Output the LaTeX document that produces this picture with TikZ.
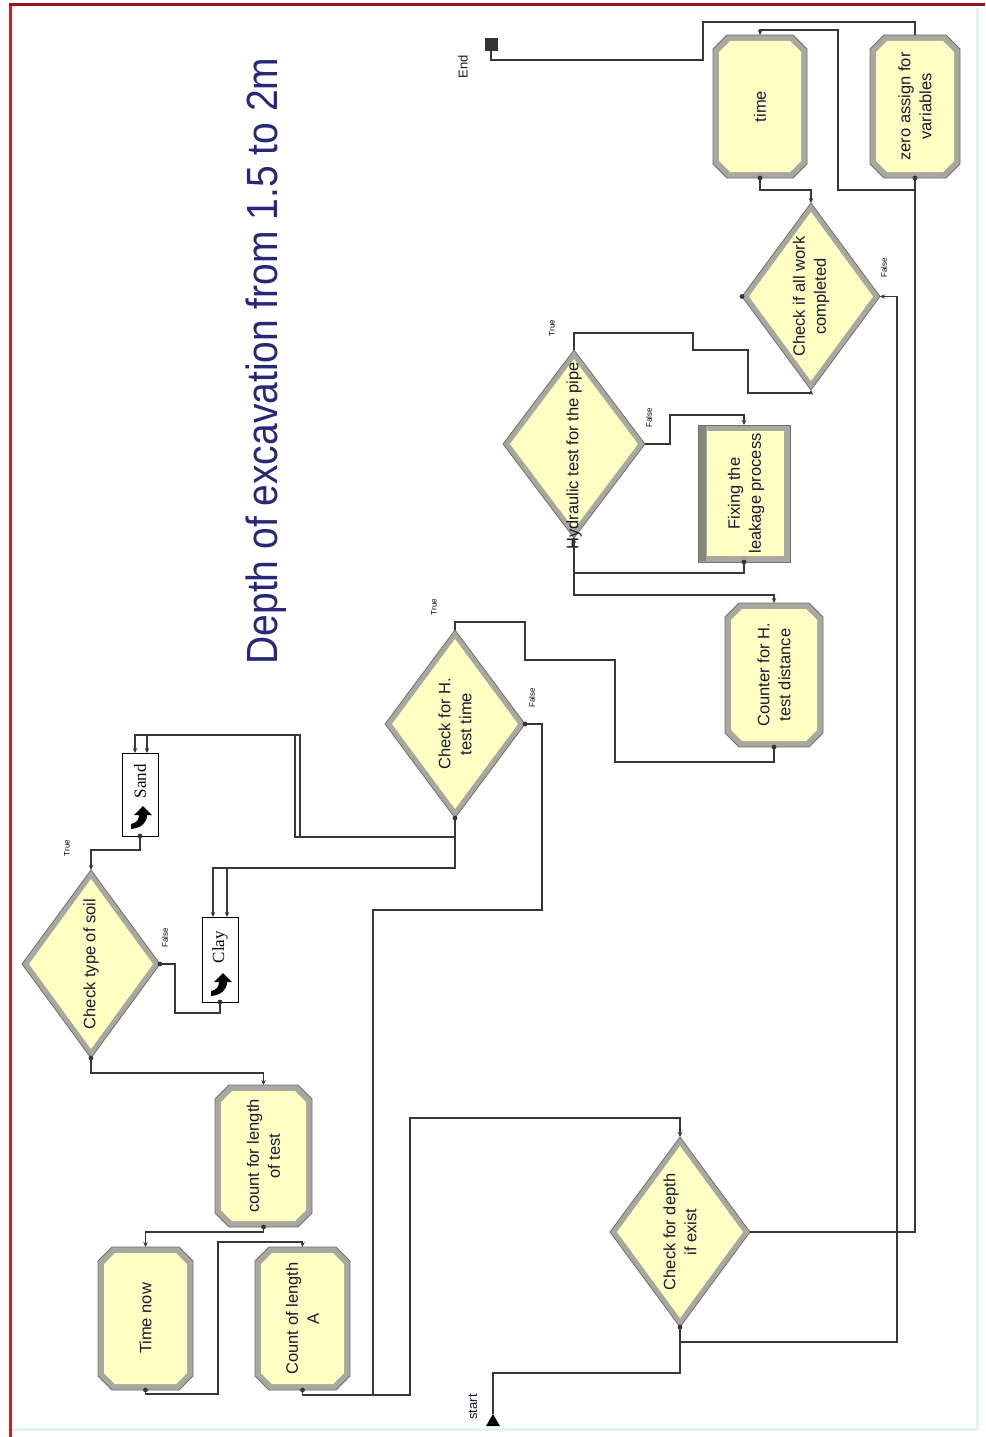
\documentclass[tikz,border=0pt]{standalone}
\usepackage{fontspec}
\setmainfont{Liberation Sans}
\newfontfamily\routefont{Liberation Serif}
\usetikzlibrary{shapes.geometric,arrows.meta}
\definecolor{boxyellow}{RGB}{255,255,196}
\definecolor{bordergray}{RGB}{168,168,160}
\definecolor{borderdark}{RGB}{112,112,106}
\definecolor{linecol}{RGB}{55,55,55}
\definecolor{textcol}{RGB}{25,25,50}
\definecolor{titlecol}{RGB}{40,40,120}
\definecolor{frametop}{RGB}{150,20,30}
\definecolor{frameleft}{RGB}{210,30,40}
\definecolor{framepale}{RGB}{226,244,244}

% process module: chamfered box with a grey rim
\newcommand\octobox[6]{%
  \node[shapebox,rectangle,minimum width=#4pt,minimum height=#5pt] (#1) at (#2,#3) {};
  \filldraw[fill=bordergray,draw=borderdark,line width=0.8pt]
    ([xshift=14pt]#1.north west) -- ([xshift=-14pt]#1.north east)
    -- ([yshift=-14pt]#1.north east) -- ([yshift=14pt]#1.south east)
    -- ([xshift=-14pt]#1.south east) -- ([xshift=14pt]#1.south west)
    -- ([yshift=14pt]#1.south west) -- ([yshift=-14pt]#1.north west) -- cycle;
  \fill[boxyellow]
    ([shift={(17pt,-6pt)}]#1.north west) -- ([shift={(-17pt,-6pt)}]#1.north east)
    -- ([shift={(-6pt,-17pt)}]#1.north east) -- ([shift={(-6pt,17pt)}]#1.south east)
    -- ([shift={(-17pt,6pt)}]#1.south east) -- ([shift={(17pt,6pt)}]#1.south west)
    -- ([shift={(6pt,17pt)}]#1.south west) -- ([shift={(6pt,-17pt)}]#1.north west) -- cycle;
  \node[lbl] (#1-t) at (#1) {#6};
}
% decide module: diamond with a grey rim
\newcommand\decbox[7]{%
  \node[shapebox,diamond,minimum width=#4pt,minimum height=#5pt] (#1) at (#2,#3) {};
  \filldraw[fill=bordergray,draw=borderdark,line width=0.8pt]
    (#1.north) -- (#1.east) -- (#1.south) -- (#1.west) -- cycle;
  \fill[boxyellow] ([yshift=-9pt]#1.north) -- ([xshift=-7pt]#1.east)
    -- ([yshift=9pt]#1.south) -- ([xshift=7pt]#1.west) -- cycle;
  \node[lbl] (#1-t) at ([shift={(0,#7)}]#1) {#6};
}
% curved arrow symbol of the route modules
\newcommand\routeicon[2]{%
  \begin{scope}[shift={(#1,#2)}]
    \fill[black] (2,-12) -- (11,-3) -- (6,-3) .. controls (6,5) and (0,10) .. (-10,11)
      -- (-10,6) .. controls (-4,5) and (-2,1) .. (-2,-3) -- (-7,-3) -- cycle;
  \end{scope}
}

\begin{document}
\begin{tikzpicture}[x=1pt,y=-1pt,
  shapebox/.style={draw=none,inner sep=0pt,outer sep=0pt},
  conn/.style={draw=linecol,line width=1.3pt},
  arr/.style={conn,-{Stealth[length=5pt,width=4.5pt]}},
  lbl/.style={rotate=90,align=center,inner sep=0pt,font=\fontsize{16.5}{21}\selectfont,text=textcol},
  tf/.style={rotate=90,inner sep=0pt,font=\fontsize{8}{9}\selectfont,text=black},
  routebox/.style={rectangle,draw=black,line width=1pt,fill=white,inner sep=0pt,outer sep=0pt},
  port/.style={fill=linecol}
]
\useasboundingbox (0,0) rectangle (985,1437);
\fill[white] (0,0) rectangle (985,1437);

% frame
\draw[framepale,line width=3pt] (977,8) -- (977,1429) -- (12,1429);
\draw[frameleft,line width=3pt] (10,1437) -- (10,5);
\draw[frametop,line width=3pt] (9,5) -- (985,5);

% title
\node[rotate=90,anchor=base,inner sep=0pt,font=\fontsize{39}{40}\selectfont,text=titlecol] (title)
  at (277,361) {\scalebox{1}[1.12]{Depth of excavation from 1.5 to 2m}};

% process modules
\octobox{timenow}{145.5}{1318.5}{95}{143}{Time now}
\octobox{countA}{302.5}{1318.5}{95}{143}{Count of length\\A}
\octobox{countTest}{263.5}{1156}{97}{142}{count for length\\of test}
\octobox{counterH}{774}{675}{98}{144}{Counter for H.\\test distance}
\octobox{time}{760}{106.5}{94}{143}{time}
\octobox{zero}{915}{106.5}{90}{143}{zero assign for\\variables}

% leakage repair process
\node[shapebox,rectangle,minimum width=92pt,minimum height=137pt] (fixing) at (744,493.5) {};
\filldraw[fill=bordergray,draw=borderdark,line width=0.8pt] (fixing.north west) rectangle (fixing.south east);
\fill[borderdark!85] ([shift={(1pt,-1pt)}]fixing.north west) rectangle ([shift={(8pt,1pt)}]fixing.south west);
\fill[boxyellow] ([shift={(9pt,-6pt)}]fixing.north west) rectangle ([shift={(-6pt,6pt)}]fixing.south east);
\node[lbl] (fixing-t) at (746,493.5) {Fixing the\\leakage process};

% decide modules
\decbox{soil}{91}{964}{138}{188}{Check type of soil}{0}
\decbox{checkH}{455}{724}{140}{188}{Check for H.\\test time}{0}
\decbox{hydro}{574}{444}{142}{188}{Hydraulic test for the pipe}{12}
\decbox{allwork}{811}{296.5}{138}{187}{Check if all work\\completed}{0}
\decbox{depth}{680}{1232}{140}{190}{Check for depth\\if exist}{0}

% route modules
\node[routebox,minimum width=36pt,minimum height=83pt] (sand) at (140,794.5) {};
\node[rotate=90,inner sep=0pt,font=\routefont\fontsize{17}{18}\selectfont] (sand-t) at (140,781) {Sand};
\routeicon{141}{818}
\node[routebox,minimum width=36pt,minimum height=85pt] (clay) at (220,959.5) {};
\node[rotate=90,inner sep=0pt,font=\routefont\fontsize{17}{18}\selectfont] (clay-t) at (220,947) {Clay};
\routeicon{221}{985}

% create and dispose
\node[regular polygon,regular polygon sides=3,fill=black,inner sep=0pt,outer sep=0pt,minimum size=16pt] (start) at (493,1422) {};
\node[rotate=90,inner sep=0pt,font=\fontsize{13}{14}\selectfont,text=textcol] (start-t) at (473,1407) {start};
\node[rectangle,fill=black!80,inner sep=0pt,outer sep=0pt,minimum size=13pt] (endsq) at (491,45) {};
\node[rotate=90,inner sep=0pt,font=\fontsize{13}{14}\selectfont,text=textcol] (end-t) at (463,67) {End};

% branch labels
\node[tf] (soil-true) at (67,848) {True};
\node[tf] (soil-false) at (165,938) {False};
\node[tf] (checkH-true) at (434,607) {True};
\node[tf] (checkH-false) at (532,698) {False};
\node[tf] (hydro-true) at (552,328) {True};
\node[tf] (hydro-false) at (649,418) {False};
\node[tf] (allwork-false) at (884,268) {False};

% connections
\draw[conn] (start.north) -- (493,1373) -| (depth.south);
\draw[arr] (depth.south) |- (897,1342) |- (allwork.east);
\draw[conn] (depth.east) -| (zero.south);
\draw[arr] (countA.south) |- (410,1395) -- (410,1118) -| (depth.north);
\draw[conn] (checkH.east) -| (542,910) -| (373,1395) -| (countA.south);
\draw[arr] (soil.south) |- ([yshift=12pt]countTest.north) -- (countTest.north);
\draw[arr] (countTest.south) |- (145.5,1232) -- (timenow.north);
\draw[arr] (timenow.south) |- (218,1394) -- (218,1242) -| (countA.north);
\draw[conn] (soil.east) -- (175,964) |- ([yshift=-11pt]clay.south) -- (clay.south);
\draw[arr] (sand.south) |- (91,850) -- (soil.north);
\draw[arr] (checkH.south) |- (300,837) -- (300,735) -| ([xshift=7pt]sand.north);
\draw[arr] (checkH.south) |- (295,837) -- (295,735) -| ([xshift=-5pt]sand.north);
\draw[arr] (checkH.south) |- (213,868) -- ([xshift=-7pt]clay.north);
\draw[arr] (checkH.south) |- (227,868) -- ([xshift=7pt]clay.north);
\draw[conn] (checkH.north) |- (525,622) -- (525,660) -- (615,660) -- (615,762) -| (counterH.south);
\draw[arr] (hydro.south) |- ([yshift=8pt]counterH.north) -- (counterH.north);
\draw[arr] (fixing.south) |- (574,573) -- (hydro.south);
\draw[arr] (hydro.east) -- (670,444) |- ([yshift=10pt]fixing.north) -- (fixing.north);
\draw[arr] (hydro.north) |- (693,333) -- (693,350) -- (748,350) -- (748,393) -| (allwork.south);
\draw[arr] (time.south) |- ([yshift=13pt]allwork.north) -- (allwork.north);
\draw[arr] (zero.south) |- (838,190) -- (838,30) -| (time.north);
\draw[conn] (zero.north) |- (703,22) -- (703,60) -| (endsq.south);

% exit points
\foreach \p in {depth.south,countA.south,timenow.south,countTest.south,soil.south,soil.east,
  sand.south,clay.south,checkH.south,checkH.east,counterH.south,fixing.south,allwork.west,
  time.south,zero.south}
  \fill[port] (\p) circle (2.4);
\end{tikzpicture}
\end{document}
